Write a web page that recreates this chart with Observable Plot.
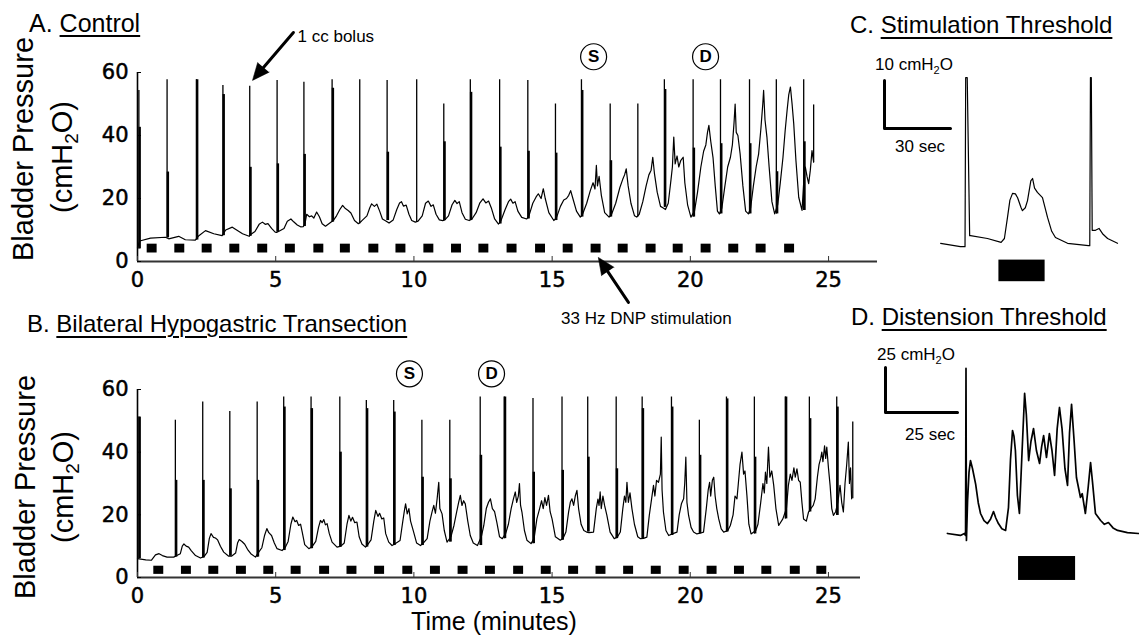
<!DOCTYPE html>
<html><head><meta charset="utf-8">
<script src="https://cdn.jsdelivr.net/npm/d3@7"></script>
<script src="https://cdn.jsdelivr.net/npm/@observablehq/plot@0.6"></script>
<style>
html,body{margin:0;padding:0;background:#fff;}
#fig{position:relative;width:1139px;height:637px;overflow:hidden;font-family:"Liberation Sans",Arial,sans-serif;color:#000;background:#fff;}
.ttl{position:absolute;white-space:nowrap;line-height:1;}
.ttl u{text-decoration-thickness:1.5px;text-underline-offset:4px;}
</style>
</head><body>
<div id="fig">
<div class="ttl" style="left:29px;top:11px;font-size:25px">A. <u style="text-underline-offset:3px">Control</u></div>
<div class="ttl" style="left:27px;top:312px;font-size:24px">B. <u>Bilateral Hypogastric Transection</u></div>
<div class="ttl" style="left:850px;top:13px;font-size:24px">C. <u>Stimulation Threshold</u></div>
<div class="ttl" style="left:851px;top:305px;font-size:24px">D. <u>Distension Threshold</u></div>
<svg id="ov" width="1139" height="637" style="position:absolute;left:0;top:0;pointer-events:none" font-family="Liberation Sans, Arial, sans-serif" fill="#000">
  <g font-size="29" text-anchor="middle">
    <text transform="translate(33,149) rotate(-90)">Bladder Pressure</text>
    <text transform="translate(72,157) rotate(-90)">(cmH<tspan font-size="19" dy="6">2</tspan><tspan dy="-6">O)</tspan></text>
    <text transform="translate(35,487) rotate(-90)">Bladder Pressure</text>
    <text transform="translate(73,487) rotate(-90)">(cmH<tspan font-size="19" dy="6">2</tspan><tspan dy="-6">O)</tspan></text>
  </g>
  <text x="494" y="630" font-size="25" text-anchor="middle">Time (minutes)</text>
  <g font-size="17">
    <text x="875" y="70">10 cmH<tspan font-size="11" dy="4">2</tspan><tspan dy="-4">O</tspan></text>
    <text x="895" y="152">30 sec</text>
    <text x="877" y="360">25 cmH<tspan font-size="11" dy="4">2</tspan><tspan dy="-4">O</tspan></text>
    <text x="905" y="440">25 sec</text>
  </g>
</svg>
</div>
<script>
// ---------- shared ticks ----------
const yTicks = [0, 20, 40, 60];
const xTicks = [0, 5, 10, 15, 20, 25];
const markLabels = ["S", "D"];

// ---------- Panel A: Control (minutes, cmH2O) ----------
const traceA = [[0.0,4.5],[0.08,6.5],[0.47,7.4],[1.01,7.7],[1.13,7.2],[1.49,8.0],[1.73,6.9],[2.09,6.8],[2.22,8.2],[2.46,9.8],[2.76,8.8],[3.06,8.2],[3.19,10.0],[3.43,10.9],[3.8,8.8],[4.04,8.0],
[4.08,8.5],[4.25,9.5],[4.4,11.8],[4.52,12.5],[4.62,11.8],[4.72,12.0],[4.85,10.5],[4.98,9.3],[5.03,9.2],
[5.1,9.5],[5.3,10.5],[5.42,12.8],[5.55,13.5],[5.65,12.6],[5.78,11.6],[5.9,11.0],[6.0,11.1],
[6.06,12.0],[6.12,15.0],[6.22,14.2],[6.3,14.5],[6.38,13.8],[6.48,15.7],[6.58,14.2],[6.68,12.0],[6.8,11.2],[6.97,12.3],
[7.08,13.0],[7.2,14.5],[7.32,16.5],[7.42,17.8],[7.52,16.8],[7.62,16.2],[7.72,15.4],[7.85,13.0],[7.99,12.0],
[8.1,12.8],[8.3,14.5],[8.4,17.0],[8.47,18.3],[8.57,17.5],[8.66,18.2],[8.76,16.0],[8.86,13.5],[9.0,12.8],
[9.1,12.2],[9.25,13.2],[9.38,16.5],[9.48,18.6],[9.55,19.0],[9.62,17.6],[9.72,17.9],[9.82,15.0],[9.92,13.0],[10.05,12.5],
[10.15,12.8],[10.3,14.5],[10.42,18.5],[10.52,19.2],[10.62,17.5],[10.7,18.0],[10.8,15.0],[10.92,13.2],[11.04,13.0],
[11.12,13.2],[11.25,14.5],[11.38,18.0],[11.48,19.4],[11.56,18.4],[11.64,19.0],[11.74,15.5],[11.86,13.4],[12.0,13.0],
[12.1,13.5],[12.25,15.5],[12.38,18.5],[12.5,19.9],[12.6,18.6],[12.7,19.2],[12.8,17.0],[12.92,13.5],[13.06,11.9],
[13.15,13.0],[13.3,16.5],[13.42,19.0],[13.5,19.8],[13.58,18.5],[13.66,19.0],[13.76,16.0],[13.9,14.0],[14.08,13.5],
[14.16,14.5],[14.3,18.5],[14.42,20.5],[14.5,21.5],[14.6,20.0],[14.68,23.1],[14.75,20.0],[14.88,15.5],[15.06,13.0],
[15.16,14.0],[15.3,17.5],[15.42,19.5],[15.52,20.0],[15.6,21.0],[15.67,22.5],[15.75,20.0],[15.88,16.0],[16.02,14.1],
[16.1,15.0],[16.25,18.5],[16.38,22.5],[16.48,25.0],[16.55,23.0],[16.6,30.5],[16.64,24.0],[16.7,27.0],[16.78,21.0],[16.9,15.5],[17.06,14.1],
[17.15,15.0],[17.3,18.5],[17.45,23.5],[17.55,26.0],[17.62,27.5],[17.68,29.4],[17.75,24.0],[17.85,18.5],[17.98,14.5],[18.06,14.1],
[18.15,15.0],[18.28,19.0],[18.4,24.0],[18.5,27.5],[18.58,29.0],[18.64,33.1],[18.7,28.0],[18.8,22.0],[18.92,17.5],[19.02,17.0],
[19.1,16.5],[19.2,18.5],[19.3,26.0],[19.35,30.0],[19.4,39.5],[19.45,31.0],[19.52,33.5],[19.58,30.0],[19.65,32.0],[19.74,33.1],[19.8,25.0],[19.9,18.0],[20.02,14.1],
[20.15,16.0],[20.26,22.0],[20.38,30.0],[20.48,35.0],[20.56,37.0],[20.62,41.0],[20.67,43.2],[20.74,38.0],[20.82,33.0],[20.9,24.0],[20.98,16.0],[21.05,15.1],
[21.14,17.0],[21.25,24.0],[21.35,30.0],[21.45,33.1],[21.52,37.0],[21.58,44.0],[21.62,50.0],[21.66,41.0],[21.72,40.0],[21.8,34.2],[21.9,24.0],[22.0,16.0],[22.1,15.1],
[22.18,17.0],[22.28,24.0],[22.38,30.0],[22.47,34.2],[22.55,42.0],[22.62,50.0],[22.65,54.3],[22.7,45.0],[22.77,39.5],[22.85,30.0],[22.95,19.0],[23.05,15.1],
[23.16,18.0],[23.25,24.7],[23.35,33.0],[23.43,41.6],[23.5,48.0],[23.56,53.0],[23.62,55.4],[23.68,50.0],[23.74,43.7],[23.82,32.0],[23.92,20.4],[24.04,16.2],
[24.12,28.0],[24.16,30.0],[24.22,27.0],[24.28,24.7],[24.34,29.0],[24.4,35.2],[24.46,31.5]];
const spikeTA    = [0.05,1.07,2.13,3.09,4.06,5.05,6.02,7.04,8.04,9.03,10.1,11.08,12.04,13.1,14.12,15.12,16.06,17.1,18.1,19.06,20.1,21.09,22.14,23.11,24.1,24.46];
const spikeBaseA = [4.0,7.5,6.8,8.2,8.0,9.3,11.1,12.5,11.9,13.0,12.5,13.0,13.0,11.9,13.5,13.0,14.1,14.1,14.1,17.2,14.1,15.1,15.1,15.1,16.2,31.5];
const spikePeakA = [54.3,57.7,57.7,55.9,55.6,57.5,56.9,57.7,57.7,57.5,57.7,50.0,57.7,57.7,57.5,50.0,57.7,50.0,50.0,57.7,57.7,57.7,57.7,57.7,57.7,49.7];
const spikeMidA  = [42.6,28.4,57.7,53.0,29.9,31.0,34.0,55.0,11.9,34.7,12.5,38.0,53.7,36.3,35.0,34.4,54.3,32.0,14.1,54.6,36.0,37.4,37.4,28.5,38.0,31.5];
const stimA = [0.53,1.53,2.52,3.52,4.53,5.53,6.56,7.52,8.55,9.53,10.54,11.54,12.53,13.55,14.58,15.58,16.59,17.57,18.58,19.56,20.57,21.57,22.56,23.59];
const markTA = [16.5, 20.55];

// ---------- Panel B: Bilateral Hypogastric Transection ----------
const traceB = [[0.0,6.0],[0.3,5.6],[0.5,5.5],[0.65,7.2],[0.78,7.6],[0.9,7.0],[1.07,6.5],[1.31,6.5],
[1.42,7.0],[1.55,7.6],[1.62,10.0],[1.68,10.7],[1.76,10.0],[1.85,9.7],[1.95,8.5],[2.1,7.0],[2.28,6.2],
[2.42,6.8],[2.52,8.0],[2.6,12.5],[2.66,14.0],[2.75,12.8],[2.82,12.6],[2.9,12.0],[3.0,10.0],[3.12,8.1],[3.3,6.8],
[3.4,6.8],[3.55,7.8],[3.62,11.0],[3.68,12.1],[3.78,11.5],[3.88,10.6],[3.98,9.0],[4.1,7.6],[4.27,6.5],
[4.38,8.0],[4.5,9.5],[4.6,13.5],[4.68,15.6],[4.75,14.3],[4.85,13.4],[4.95,11.0],[5.05,9.2],[5.23,8.6],
[5.34,9.5],[5.45,11.5],[5.55,17.0],[5.62,19.3],[5.7,17.8],[5.76,18.2],[5.83,16.6],[5.9,17.0],[5.96,14.5],[6.05,10.5],[6.2,9.2],
[6.33,10.0],[6.45,11.5],[6.55,16.0],[6.62,18.2],[6.68,17.5],[6.74,18.5],[6.8,16.8],[6.86,17.2],[6.94,14.0],[7.04,11.3],[7.22,9.7],
[7.36,10.0],[7.48,11.0],[7.58,17.0],[7.65,19.8],[7.72,18.0],[7.78,19.2],[7.86,17.5],[7.94,17.7],[8.02,13.0],[8.12,10.7],[8.25,9.7],
[8.33,10.5],[8.45,12.0],[8.55,18.0],[8.62,21.4],[8.7,19.5],[8.76,20.5],[8.84,18.7],[8.91,19.0],[8.98,14.0],[9.09,11.3],[9.21,10.2],
[9.32,10.8],[9.5,11.8],[9.6,18.0],[9.66,21.5],[9.7,23.5],[9.76,20.3],[9.82,22.0],[9.88,18.0],[9.98,14.9],[10.1,11.0],[10.24,10.2],
[10.34,11.0],[10.48,12.4],[10.58,18.0],[10.66,21.0],[10.72,23.0],[10.78,20.5],[10.84,25.0],[10.9,30.4],[10.94,22.0],[11.02,20.3],[11.1,15.0],[11.2,11.3],
[11.34,13.0],[11.45,16.6],[11.55,21.0],[11.62,24.0],[11.68,26.2],[11.74,23.0],[11.8,24.5],[11.86,23.5],[11.95,18.0],[12.04,13.4],[12.15,11.0],[12.3,10.2],
[12.44,13.0],[12.53,16.6],[12.62,22.0],[12.7,24.0],[12.77,25.1],[12.84,22.0],[12.92,21.0],[13.0,17.7],[13.1,13.0],[13.2,12.4],
[13.32,14.0],[13.42,17.0],[13.52,22.0],[13.6,25.0],[13.67,27.3],[13.72,24.0],[13.78,26.0],[13.82,30.0],[13.86,23.0],[13.91,20.9],[14.0,15.0],[14.09,11.9],[14.24,10.8],
[14.35,12.5],[14.45,18.7],[14.55,22.0],[14.62,24.5],[14.68,22.0],[14.74,25.5],[14.8,23.0],[14.87,26.2],[14.93,21.0],[15.0,18.7],[15.12,13.0],[15.3,11.9],
[15.4,12.5],[15.5,14.5],[15.6,21.0],[15.66,24.0],[15.72,25.1],[15.78,23.0],[15.84,26.0],[15.9,27.8],[15.96,22.0],[16.05,17.0],[16.15,15.0],[16.25,14.5],
[16.34,14.3],[16.5,14.5],[16.6,22.0],[16.66,25.0],[16.7,23.0],[16.74,27.3],[16.78,22.0],[16.84,26.0],[16.9,23.0],[16.98,20.0],[17.1,14.5],[17.25,12.4],
[17.37,13.0],[17.47,14.5],[17.56,22.0],[17.62,26.0],[17.67,24.0],[17.71,30.4],[17.76,24.0],[17.82,27.0],[17.89,22.0],[17.98,17.0],[18.1,13.0],[18.2,12.4],
[18.31,12.5],[18.43,12.9],[18.52,20.0],[18.6,25.0],[18.67,29.4],[18.72,26.0],[18.78,31.0],[18.85,30.4],[18.92,33.0],[18.95,44.8],[18.98,28.0],[19.03,20.9],[19.12,15.0],[19.22,13.4],
[19.37,14.0],[19.52,14.5],[19.6,20.0],[19.68,23.5],[19.76,25.1],[19.8,30.0],[19.84,38.4],[19.88,24.0],[19.94,19.8],[20.03,16.0],[20.12,14.5],[20.24,13.9],
[20.38,14.2],[20.48,14.5],[20.58,22.0],[20.65,28.0],[20.7,30.4],[20.74,26.0],[20.8,31.0],[20.85,32.0],[20.9,26.0],[20.96,22.0],[21.03,18.7],[21.12,15.5],[21.21,14.5],
[21.36,15.0],[21.45,16.6],[21.55,20.0],[21.62,26.0],[21.69,25.1],[21.74,30.0],[21.8,36.0],[21.87,40.0],[21.93,33.0],[21.98,34.0],[22.05,26.2],[22.12,17.0],[22.2,13.9],
[22.37,15.0],[22.45,17.0],[22.55,24.0],[22.63,30.0],[22.68,27.0],[22.72,33.6],[22.77,30.0],[22.83,41.6],[22.88,32.0],[22.95,34.0],[23.02,29.4],[23.1,22.0],[23.2,16.6],[23.35,18.7],
[23.48,22.0],[23.55,29.4],[23.62,33.0],[23.68,31.0],[23.75,35.0],[23.8,32.0],[23.86,34.7],[23.92,31.0],[23.98,30.4],[24.04,24.0],[24.1,18.7],[24.2,18.0],[24.28,20.9],
[24.36,22.0],[24.45,23.0],[24.52,25.1],[24.6,32.0],[24.66,36.0],[24.72,38.0],[24.76,40.0],[24.8,37.0],[24.86,42.0],[24.9,38.0],[24.94,41.6],[25.0,35.0],[25.06,29.4],[25.12,22.0],[25.18,19.8],[25.26,21.0],
[25.34,24.0],[25.42,29.4],[25.48,24.0],[25.54,20.9],[25.6,30.0],[25.66,36.0],[25.72,43.2],[25.76,30.0],[25.8,35.0],[25.84,25.1]];
const spikeTB    = [0.05,1.37,2.36,3.34,4.33,5.29,6.28,7.32,8.28,9.27,10.29,11.3,12.4,13.27,14.31,15.36,16.29,17.32,18.26,19.32,20.33,21.31,22.32,23.44,24.31,25.3,25.88];
const spikeBaseB = [6.0,6.5,6.2,6.8,6.5,8.6,9.2,9.7,9.7,10.2,10.2,11.3,10.2,12.4,10.8,11.9,14.5,12.4,12.4,13.4,13.9,14.5,13.9,18.7,20.9,19.8,25.1];
const spikePeakB = [51.2,50.2,56.0,53.0,56.0,57.6,57.6,57.6,56.5,56.5,50.2,50.2,57.6,57.6,57.1,57.6,57.6,57.6,57.6,57.6,50.2,57.6,57.6,57.6,57.6,57.6,49.6];
const spikeMidB  = [51.2,31.0,31.0,28.3,31.0,54.4,53.9,40.0,53.9,52.8,32.0,31.5,39.0,57.6,33.6,34.2,38.4,34.7,53.9,54.4,39.0,57.0,38.4,57.6,50.7,54.4,25.1];
const stimB = [0.77,1.77,2.76,3.76,4.75,5.74,6.77,7.76,8.76,9.78,10.78,11.78,12.77,13.79,14.79,15.78,16.77,17.77,18.77,19.78,20.79,21.78,22.77,23.8,24.76];
const markTB = [9.84, 12.81];

// ---------- Panel C: Stimulation threshold (seconds, cmH2O) ----------
const traceC = [[25.5,1.5],[34.5,0.8],[36.6,0.8],[36.9,36.0],[37.6,36.0],[38.7,3.1],[39.1,3.1],[46.8,2.5],[53.0,1.7],[54.5,2.5],[55.9,6.9],[57.0,10.5],[58.2,11.9],[59.5,11.8],[60.5,11.0],[62.0,9.0],[62.7,8.3],[64.0,8.9],[65.0,10.4],[66.5,14.5],[67.3,15.0],[68.2,13.0],[69.5,12.1],[71.8,11.0],[74.1,6.9],[76.0,4.0],[77.7,2.7],[83.2,1.5],[92.7,1.0],[93.3,1.0],[93.6,36.0],[94.0,36.0],[94.4,4.2],[95.9,4.2],[97.5,4.6],[99.1,3.5],[101.4,2.5],[105.9,1.5]];
const stimC = [52, 73];          // stimulation on/off (s)
const scaleC = [30, 10];         // 30 sec, 10 cmH2O

// ---------- Panel D: Distension threshold (seconds, cmH2O) ----------
const traceD = [[21.5,3.9],[26.0,2.8],[27.4,3.9],[27.8,2.8],[27.95,95.6],[28.1,0],[28.5,22.2],[29.0,38.0],[29.5,44.4],[30.2,40.0],[31.3,31.3],[32.2,21.0],[33.0,15.0],[34.2,11.0],[35.4,9.4],[36.5,12.0],[37.5,16.1],[38.3,12.5],[39.2,9.4],[40.4,6.5],[41.7,5.6],[42.7,18.3],[43.4,45.0],[44.1,61.1],[44.6,58.0],[45.1,50.0],[45.8,25.0],[46.5,15.0],[47.3,45.0],[48.3,81.7],[48.9,70.0],[49.7,44.4],[50.5,55.0],[51.4,62.2],[52.4,50.0],[53.5,42.8],[54.2,52.0],[54.9,58.3],[55.9,46.1],[56.9,59.4],[57.8,50.0],[58.7,36.1],[59.6,62.0],[60.4,73.9],[61.3,62.0],[62.3,40.0],[63.2,30.6],[63.9,60.0],[64.6,75.6],[65.5,55.0],[66.3,35.0],[67.7,23.9],[68.3,26.0],[69.4,15.0],[70.4,30.0],[71.2,43.3],[71.9,32.0],[72.9,15.0],[74.7,11.1],[76.0,9.0],[77.4,10.0],[79.0,7.0],[80.6,5.6],[84.0,4.4],[87.8,3.9]];
const stimD = [46.2, 66.0];
const scaleD = [25, 25];         // 25 sec, 25 cmH2O

// ---------- annotations (panel A coordinates) ----------
const arrowsA = [
  {x1: 5.64, y1: 72.7, x2: 4.16, y2: 57.5, rot: 220},
  {x1: 17.76, y1: -13.0, x2: 16.67, y2: 1.3, rot: 326}
];
const bolusLabel = [{x: 5.79, y: 71.4, text: "1 cc bolus"}];
const dnpLabel = [{x: 18.41, y: -18.1, text: "33 Hz DNP stimulation"}];

// ---------- helpers ----------
const fig = document.getElementById("fig");
function place(el, left, top) {
  el.style.position = "absolute";
  el.style.left = left + "px";
  el.style.top = top + "px";
  fig.appendChild(el);
}
const FONT = "Liberation Sans, Arial, sans-serif";
const TICKFONT = "DejaVu Sans";
const SQ_HALF = 0.18;

function spikes(T, B, P, M) { return T.map((t, i) => ({t, base: B[i], peak: P[i], mid: M[i]})); }

function timePanel({trace, spk, stim, stimLo, stimHi, markT, xMax, width, height, mTop, mBottom, extra}) {
  const marks = markT.map((t, i) => ({t, label: markLabels[i]}));
  return Plot.plot({
    width, height,
    marginLeft: 137, marginRight: width - 137 - Math.round(xMax * 27.64), marginTop: mTop, marginBottom: mBottom,
    x: {domain: [0, xMax]},
    y: {domain: [0, 60]},
    style: {background: "transparent", overflow: "visible", fontFamily: FONT},
    marks: [
      Plot.ruleY([0], {stroke: "#333", strokeWidth: 2}),
      Plot.ruleX([0], {stroke: "#000", strokeWidth: 1.6}),
      Plot.axisY(yTicks, {tickSize: -4, tickPadding: 13, fontSize: 21, fontFamily: TICKFONT, label: null, stroke: "#000", textStroke: "#000", textStrokeWidth: 0.5}),
      Plot.axisX(xTicks, {tickSize: -5, tickPadding: 16, fontSize: 21, fontFamily: TICKFONT, label: null, stroke: "#333", textStroke: "#000", textStrokeWidth: 0.5}),
      Plot.rect(stim, {x1: d => d - SQ_HALF, x2: d => d + SQ_HALF, y1: stimLo, y2: stimHi, fill: "#000"}),
      Plot.line(trace, {x: d => d[0], y: d => d[1], stroke: "#000", strokeWidth: 1.2}),
      Plot.ruleX(spk, {x: "t", y1: "base", y2: "peak", stroke: "#000", strokeWidth: 1.3}),
      Plot.ruleX(spk, {x: "t", y1: "base", y2: "mid", stroke: "#000", strokeWidth: 2.4, dx: 0.8}),
      Plot.dot(marks, {x: "t", y: 65, r: 13, stroke: "#000", fill: "#fff", strokeWidth: 1.2}),
      Plot.text(marks, {x: "t", y: 65, text: "label", fontSize: 17, fontWeight: "bold", fontFamily: FONT, fill: "#000"}),
      ...(extra || [])
    ]
  });
}

// Panel A
const plotA = timePanel({
  trace: traceA, spk: spikes(spikeTA, spikeBaseA, spikePeakA, spikeMidA),
  stim: stimA, stimLo: 2.7, stimHi: 5.5, markT: markTA, xMax: 26.77,
  width: 900, height: 340, mTop: 72, mBottom: 79,
  extra: [
    Plot.arrow(arrowsA, {x1: "x1", y1: "y1", x2: "x2", y2: "y2", headLength: 0, insetEnd: 9, strokeWidth: 3, stroke: "#000"}),
    Plot.vector(arrowsA, {x: "x2", y: "y2", rotate: "rot", length: 17, r: 7.5, shape: "spike", anchor: "end", fill: "#000", stroke: "#000", strokeWidth: 0.5}),
    Plot.text(bolusLabel, {x: "x", y: "y", text: "text", textAnchor: "start", fontSize: 17, fontFamily: FONT, fill: "#000"}),
    Plot.text(dnpLabel, {x: "x", y: "y", text: "text", textAnchor: "middle", fontSize: 17, fontFamily: FONT, fill: "#000"})
  ]
});
place(plotA, 0, 0);

// Panel B
const plotB = timePanel({
  trace: traceB, spk: spikes(spikeTB, spikeBaseB, spikePeakB, spikeMidB),
  stim: stimB, stimLo: 1.0, stimHi: 3.6, markT: markTB, xMax: 26.16,
  width: 900, height: 337, mTop: 89, mBottom: 60
});
place(plotB, 0, 300);

// Panel C
const plotC = Plot.plot({
  width: 299, height: 300, marginLeft: 44, marginRight: 0, marginTop: 0, marginBottom: 50,
  x: {domain: [0, 115.9], axis: null},
  y: {domain: [0, 52.08], axis: null},
  style: {background: "transparent", overflow: "visible"},
  marks: [
    Plot.line([[0, 25.4 + scaleC[1]], [0, 25.4], [scaleC[0], 25.4]], {x: d => d[0], y: d => d[1], stroke: "#000", strokeWidth: 3}),
    Plot.line(traceC, {x: d => d[0], y: d => d[1], stroke: "#000", strokeWidth: 1.2}),
    Plot.rect([stimC], {x1: d => d[0], x2: d => d[1], y1: -2.0, y2: -6.5, fill: "#000"})
  ]
});
place(plotC, 840, 0);

// Panel D
const plotD = Plot.plot({
  width: 299, height: 337, marginLeft: 45, marginRight: 0, marginTop: 0, marginBottom: 97,
  x: {domain: [0, 88.19], axis: null},
  y: {domain: [0, 133.33], axis: null},
  style: {background: "transparent", overflow: "visible"},
  marks: [
    Plot.line([[0, 71.1 + scaleD[1]], [0, 71.1], [scaleD[0], 71.1]], {x: d => d[0], y: d => d[1], stroke: "#000", strokeWidth: 3}),
    Plot.line(traceD, {x: d => d[0], y: d => d[1], stroke: "#000", strokeWidth: 1.7}),
    Plot.rect([stimD], {x1: d => d[0], x2: d => d[1], y1: -8.9, y2: -22.2, fill: "#000"})
  ]
});
place(plotD, 840, 300);

// keep the text overlay on top
fig.appendChild(document.getElementById("ov"));
</script>
</body></html>
